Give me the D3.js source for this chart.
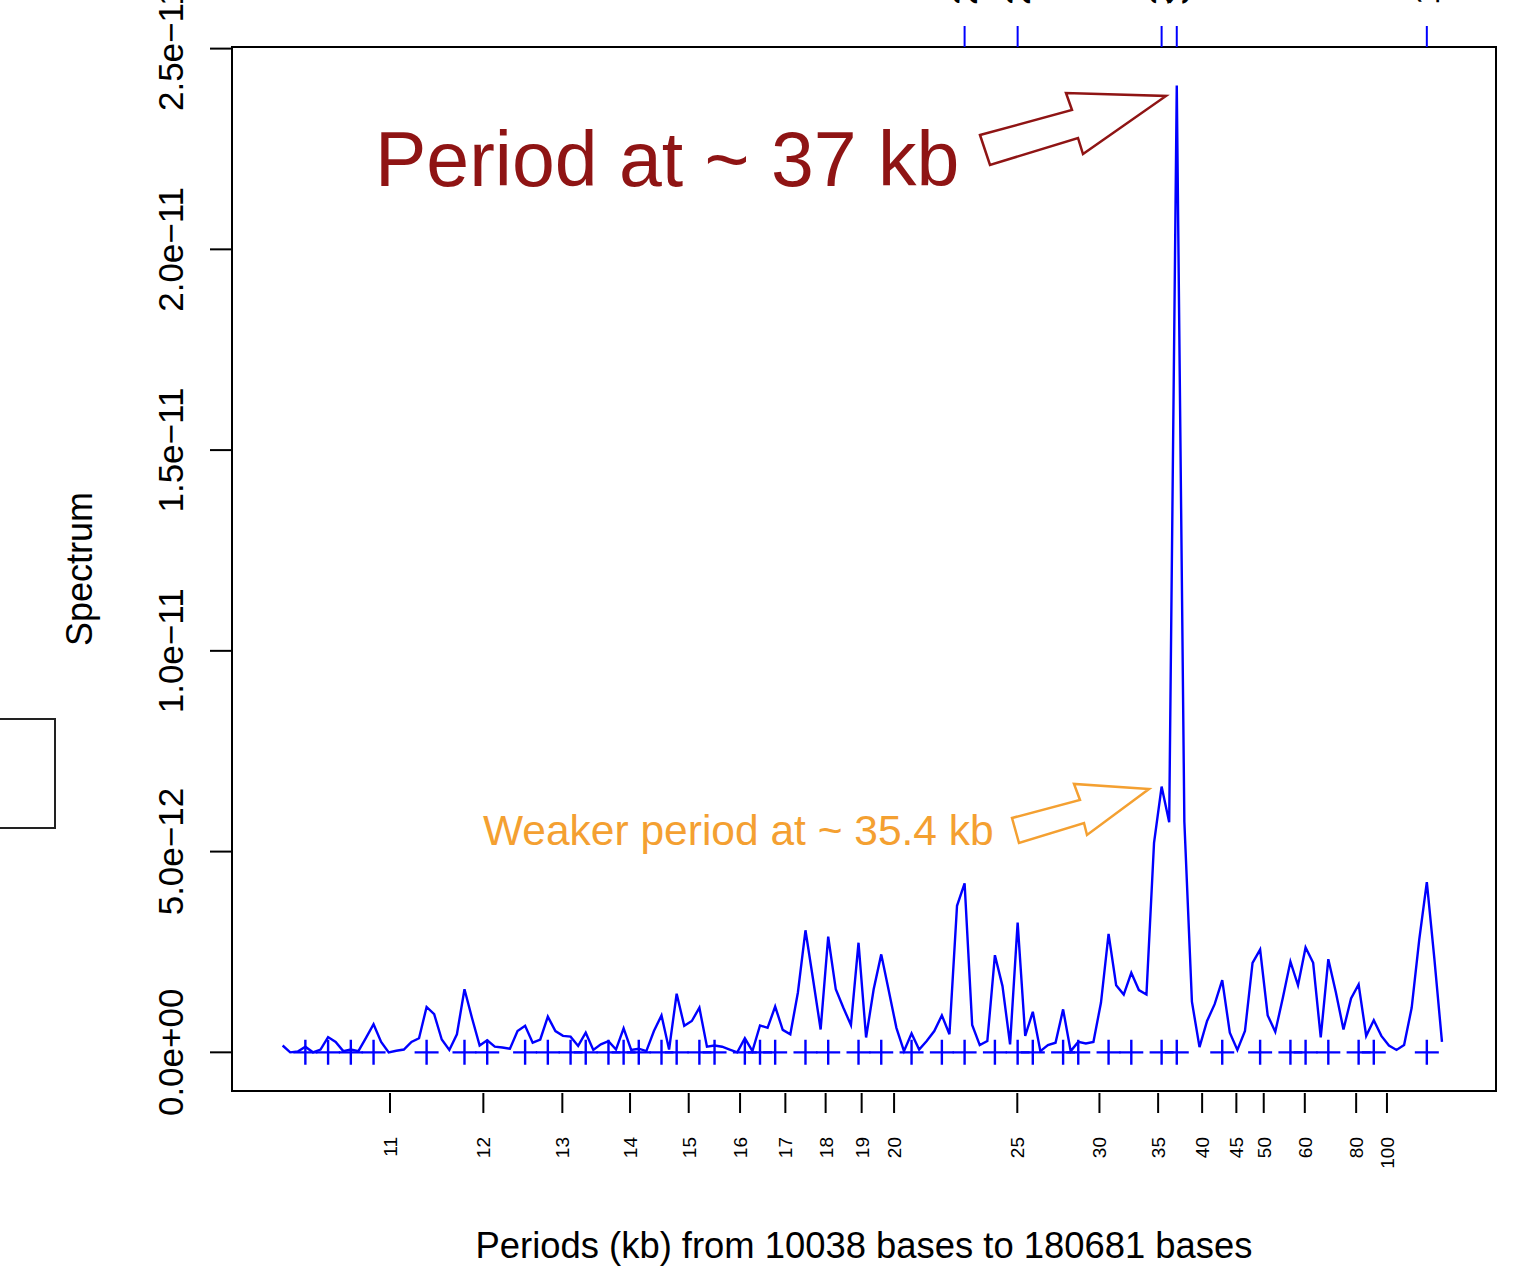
<!DOCTYPE html>
<html><head><meta charset="utf-8">
<script src="https://cdn.jsdelivr.net/npm/d3@7"></script>
<style>body{margin:0;background:#fff} svg{display:block} text{font-family:"Liberation Sans",Arial,Helvetica,sans-serif}</style>
</head><body><svg id="chart" width="1515" height="1270"></svg>
<script>
// ---- data ----
const genomeLength = 1626129;          // bases
const firstHarmonic = 162, lastHarmonic = 9;
// spectrum values (units of 1e-12), from shortest period (k=162) to longest (k=9)
const spectrumE12 = [
 0.17,0.00,0.02,0.14,0.00,0.07,0.38,0.26,0.03,0.07,
 0.03,0.36,0.70,0.26,0.00,0.04,0.07,0.26,0.35,1.13,
 0.95,0.32,0.06,0.45,1.57,0.85,0.17,0.30,0.14,0.12,
 0.09,0.53,0.66,0.24,0.32,0.89,0.53,0.41,0.39,0.16,
 0.49,0.06,0.20,0.28,0.07,0.60,0.06,0.09,0.03,0.53,
 0.92,0.07,1.46,0.66,0.78,1.11,0.14,0.17,0.14,0.07,
 0.00,0.35,0.03,0.67,0.61,1.14,0.56,0.45,1.49,3.04,
 1.82,0.57,2.88,1.57,1.11,0.68,2.73,0.37,1.57,2.44,
 1.53,0.61,0.03,0.47,0.07,0.28,0.53,0.92,0.45,3.65,
 4.21,0.68,0.18,0.28,2.42,1.65,0.20,3.23,0.41,1.01,
 0.03,0.18,0.24,1.07,0.03,0.26,0.22,0.26,1.24,2.95,
 1.67,1.44,1.98,1.55,1.44,5.22,6.62,5.73,24.08,5.75,
 1.26,0.13,0.78,1.20,1.80,0.49,0.06,0.53,2.23,2.56,
 0.92,0.51,1.36,2.26,1.67,2.61,2.23,0.37,2.32,1.49,
 0.57,1.34,1.69,0.41,0.80,0.41,0.17,0.06,0.18,1.11,
 2.81,4.24,2.32,0.26];
const peakIndex = [3,6,9,12,19,24,27,32,35,38,40,43,45,47,50,52,55,57,61,63,65,69,72,76,79,83,87,90,94,97,99,103,105,109,112,116,118,124,129,133,135,138,142,144,151];
const topPeakIndex = [90,97,116,118,151];
const topPeakLabels = ["22.6","25.0","35.4","37.0","147.8"];
const periodTicksKb = [11,12,13,14,15,16,17,18,19,20,25,30,35,40,45,50,60,80,100];
const yTicks = [0,5e-12,1e-11,1.5e-11,2e-11,2.5e-11];
const yTickLabels = ["0.0e+00","5.0e\u221212","1.0e\u221211","1.5e\u221211","2.0e\u221211","2.5e\u221211"];
const xTitle = "Periods (kb) from 10038 bases to 180681 bases";
const yTitle = "Spectrum";
const note1 = "Period at ~ 37 kb";
const note2 = "Weaker period at ~ 35.4 kb";

// ---- build ----
const harmonics = d3.range(firstHarmonic, lastHarmonic - 1, -1);
const data = harmonics.map((k, i) => ({freq: k * 1000 / genomeLength, value: spectrumE12[i] * 1e-12}));

const svg = d3.select("#chart");
const L = 232, R = 1496, T = 47, B = 1091;
const x = d3.scaleLinear().domain([0.103732, 0.0011505]).range([L, R]);
const y = d3.scaleLinear().domain([-0.963e-12, 25.04e-12]).range([B, T]);
const blue = "#0000FF";

// frame
svg.append("rect").attr("x", L).attr("y", T).attr("width", R - L).attr("height", B - T)
  .attr("fill", "none").attr("stroke", "#000").attr("stroke-width", 2);

// left stray box
svg.append("rect").attr("x", -10).attr("y", 719).attr("width", 65).attr("height", 109)
  .attr("fill", "none").attr("stroke", "#222").attr("stroke-width", 2);

// y axis
const yAxis = svg.append("g");
yAxis.append("line").attr("x1", L).attr("x2", L).attr("y1", y(0)).attr("y2", y(2.5e-11)).attr("stroke", "#000").attr("stroke-width", 2);
yTicks.forEach((t, i) => {
  yAxis.append("line").attr("x1", 210).attr("x2", L).attr("y1", y(t)).attr("y2", y(t)).attr("stroke", "#000").attr("stroke-width", 2);
  yAxis.append("text").attr("transform", `translate(183,${y(t)}) rotate(-90)`)
    .attr("text-anchor", "middle").attr("font-size", 35).text(yTickLabels[i]);
});
svg.append("text").attr("transform", `translate(92,${(T + B) / 2}) rotate(-90)`)
  .attr("text-anchor", "middle").attr("font-size", 36).text(yTitle);

// bottom axis (periods)
periodTicksKb.forEach(p => {
  const px = x(1 / p);
  svg.append("line").attr("x1", px).attr("x2", px).attr("y1", 1093).attr("y2", 1113).attr("stroke", "#000").attr("stroke-width", 2);
  svg.append("text").attr("transform", `translate(${px + 7},1137) rotate(-90)`)
    .attr("text-anchor", "end").attr("font-size", 19).text(p);
});
svg.append("text").attr("x", (L + R) / 2).attr("y", 1258).attr("text-anchor", "middle")
  .attr("font-size", 36.4).text(xTitle);

// top axis ticks at main peaks (labels run off the top edge)
topPeakIndex.forEach((i, j) => {
  const px = x(data[i].freq);
  svg.append("line").attr("x1", px).attr("x2", px).attr("y1", 26).attr("y2", T).attr("stroke", blue).attr("stroke-width", 2);
  svg.append("text").attr("transform", `translate(${px + 12.5},5) rotate(-90)`)
    .attr("text-anchor", "start").attr("font-size", 35).text(topPeakLabels[j]);
});

// spectrum line
const line = d3.line().x(d => x(d.freq)).y(d => y(d.value));
svg.append("path").datum(data).attr("d", line).attr("fill", "none").attr("stroke", blue).attr("stroke-width", 2.4);

// peak markers (+)
peakIndex.forEach(i => {
  const px = x(data[i].freq), py = y(0);
  svg.append("path").attr("d", `M${px - 12},${py}H${px + 12}M${px},${py - 12.5}V${py + 12.5}`)
    .attr("stroke", blue).attr("stroke-width", 2.4).attr("fill", "none");
});

// annotations
svg.append("text").attr("x", 375).attr("y", 186).attr("font-size", 77).attr("fill", "#8F1414").text(note1);
svg.append("polygon").attr("points", "980,135 1072,110 1066,93 1166,96 1083,154 1078,138 990,165")
  .attr("fill", "#fff").attr("stroke", "#8F1414").attr("stroke-width", 2.5);
svg.append("text").attr("x", 483).attr("y", 845).attr("font-size", 42.5).attr("fill", "#F4A031").text(note2);
svg.append("polygon").attr("points", "1012,818 1080,800 1074,784 1149,789 1087,835 1084,823 1019,843")
  .attr("fill", "#fff").attr("stroke", "#F4A031").attr("stroke-width", 2.5);
</script></body></html>
